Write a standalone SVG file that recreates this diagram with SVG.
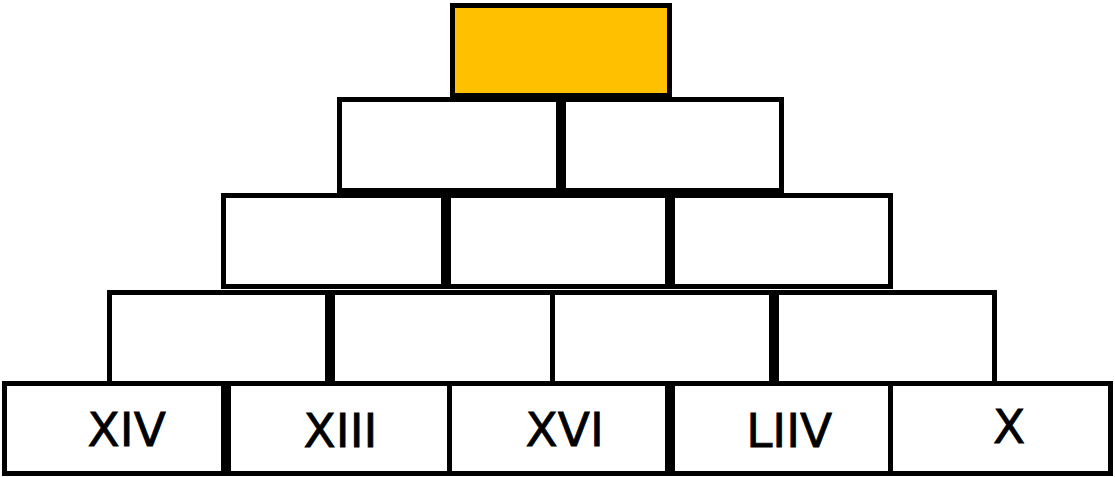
<svg xmlns="http://www.w3.org/2000/svg" width="1115" height="477" viewBox="0 0 1115 477">
<style>
.b{fill:#ffffff;stroke:#000000;stroke-width:5}
.top{fill:#ffc000;stroke:#000000;stroke-width:5}
.t{font-family:"DejaVu Sans",sans-serif;font-size:47px;fill:#000000;stroke:#000000;stroke-width:0.8;text-anchor:middle}
</style>
<rect width="1115" height="477" fill="#ffffff"/>
<g id="row1">
<g id="b1-1"><rect class="top" x="452.5" y="5.5" width="217" height="90"/></g>
</g>
<g id="row2">
<g id="b2-1"><rect class="b" x="339.5" y="99.5" width="219" height="91"/></g>
<g id="b2-2"><rect class="b" x="563.5" y="99.5" width="218" height="91"/></g>
</g>
<g id="row3">
<g id="b3-1"><rect class="b" x="223.5" y="195.5" width="220" height="91"/></g>
<g id="b3-2"><rect class="b" x="448.5" y="195.5" width="219" height="91"/></g>
<g id="b3-3"><rect class="b" x="672.5" y="195.5" width="218" height="91"/></g>
</g>
<g id="row4">
<g id="b4-1"><rect class="b" x="109.5" y="292.5" width="218" height="91"/></g>
<g id="b4-2"><rect class="b" x="332.5" y="292.5" width="220" height="91"/></g>
<g id="b4-3"><rect class="b" x="552.5" y="292.5" width="219" height="91"/></g>
<g id="b4-4"><rect class="b" x="776.5" y="292.5" width="218" height="91"/></g>
</g>
<g id="row5">
<g id="b5-1"><rect class="b" x="4.5" y="383.5" width="219" height="90"/><text class="t" x="126.7" y="446">XIV</text></g>
<g id="b5-2"><rect class="b" x="228.5" y="383.5" width="221" height="90"/><text class="t" x="340.5" y="446.7">XIII</text></g>
<g id="b5-3"><rect class="b" x="449.5" y="383.5" width="218" height="90"/><text class="t" x="564.7" y="446">XVI</text></g>
<g id="b5-4"><rect class="b" x="672.5" y="383.5" width="218" height="90"/><text class="t" x="789.2" y="446.7">LIIV</text></g>
<g id="b5-5"><rect class="b" x="890.5" y="383.5" width="220" height="90"/><text class="t" x="1009.2" y="443.3">X</text></g>
</g>
</svg>
